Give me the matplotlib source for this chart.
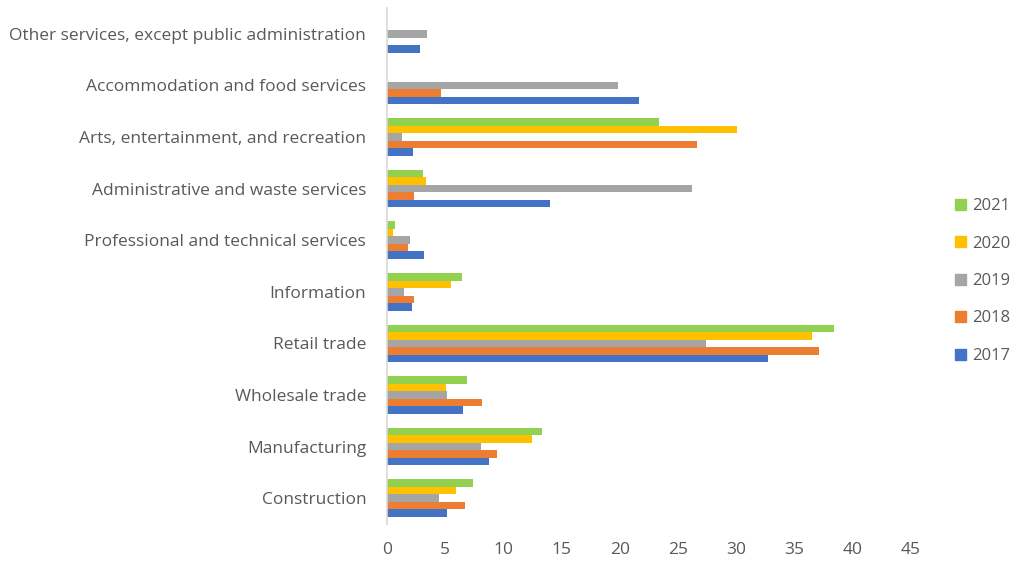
import matplotlib
matplotlib.use("Agg")
import matplotlib.pyplot as plt
import numpy as np
from matplotlib.patches import Patch

categories = ["Construction", "Manufacturing", "Wholesale trade", "Retail trade", "Information",
              "Professional and technical services", "Administrative and waste services",
              "Arts, entertainment, and recreation", "Accommodation and food services",
              "Other services, except public administration"]
years = ["2017", "2018", "2019", "2020", "2021"]
v2017 = [5.18, 8.73, 6.53, 32.7, 2.16, 3.19, 14.04, 2.21, 21.67, 2.81]
v2018 = [6.73, 9.47, 8.13, 37.1, 2.33, 1.84, 2.33, 26.6, 4.61, 0]
v2019 = [4.44, 8.04, 5.18, 27.4, 1.47, 1.95, 26.2, 1.3, 19.84, 3.47]
v2020 = [5.96, 12.44, 5.07, 36.5, 5.47, 0.5, 3.36, 30.03, 0, 0]
v2021 = [7.38, 13.3, 6.9, 38.35, 6.44, 0.7, 3.1, 23.35, 0, 0]
series = [v2017, v2018, v2019, v2020, v2021]
colors = ["#4472C4", "#ED7D31", "#A5A5A5", "#FFC000", "#92D050"]
xticks = [0, 5, 10, 15, 20, 25, 30, 35, 40, 45]

plt.rcParams['font.family'] = ['Open Sans', 'DejaVu Sans']
fig = plt.figure(figsize=(10.12, 5.61), dpi=100)
ax = fig.add_axes([387/1012, 1-524/561, (911-387)/1012, (524-8)/561])

n = len(categories)
y = np.arange(n)
h = 0.145
for i, (vals, c) in enumerate(zip(series, colors)):
    ax.barh(y + (i - 2) * h, vals, height=h, color=c, label=years[i])

ax.set_ylim(-0.5, n - 0.5)
ax.set_xlim(0, 45)
ax.set_xticks(xticks)
ax.set_yticks(y)
ax.set_yticklabels(categories)
ax.tick_params(axis='both', length=0, labelsize=12.5, colors="#595959")
ax.tick_params(axis='y', pad=15)
ax.tick_params(axis='x', pad=13)
for s in ["top", "right", "bottom"]:
    ax.spines[s].set_visible(False)
ax.spines["left"].set_color("#D9D9D9")
ax.spines["left"].set_linewidth(1.2)

handles = [Patch(color=colors[i], label=years[i]) for i in range(4, -1, -1)]
fig.legend(handles=handles, loc="center left", bbox_to_anchor=(955/1012, 1-281/561),
           frameon=False, fontsize=12, labelcolor="#595959", handlelength=0.65,
           handleheight=0.65, labelspacing=1.29, handletextpad=0.35,
           borderpad=0, borderaxespad=0)

fig.savefig("out.png", dpi=100)
